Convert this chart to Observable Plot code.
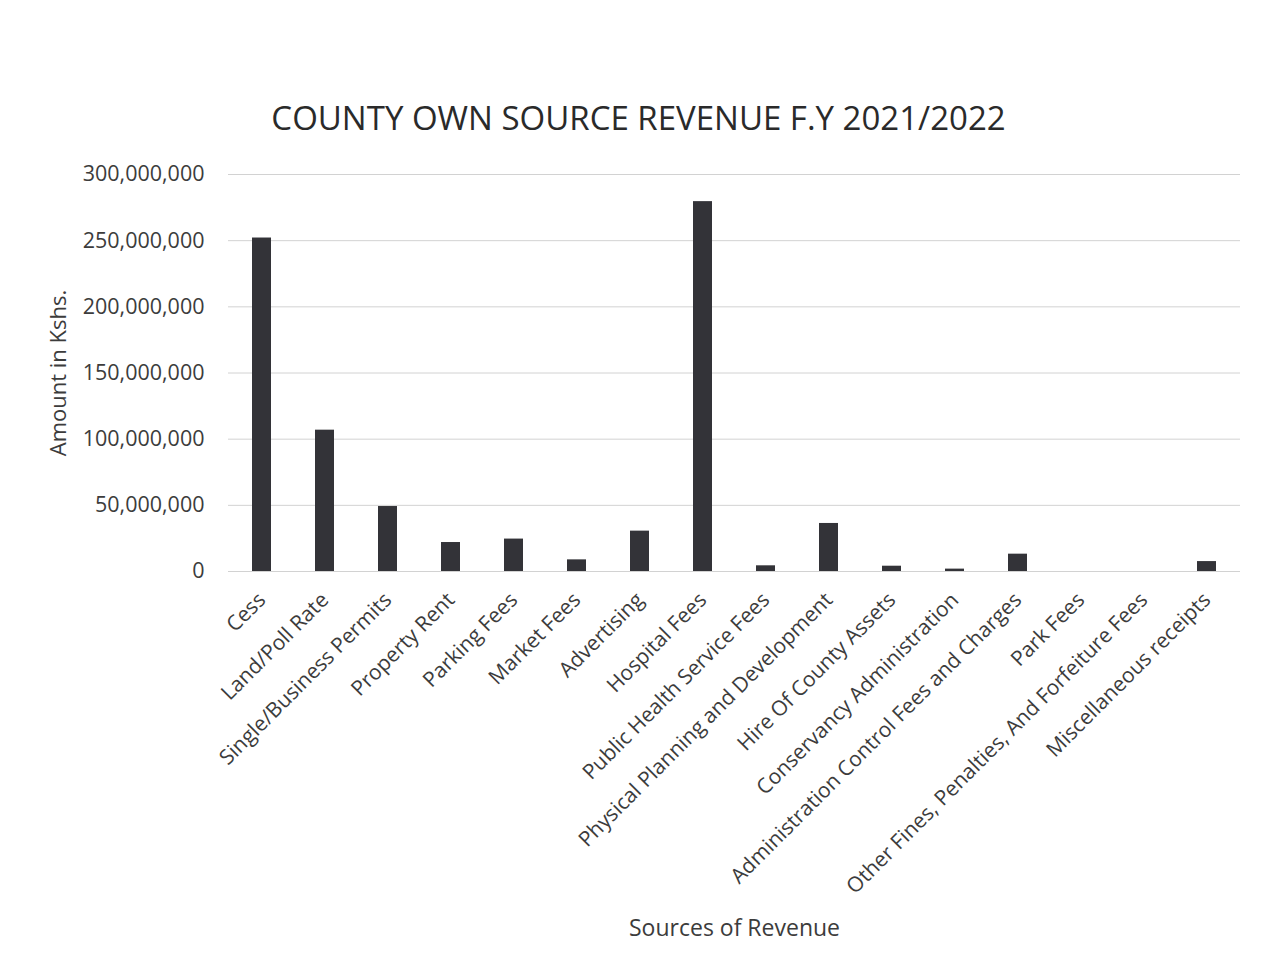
<!DOCTYPE html>
<html>
<head>
<meta charset="utf-8">
<script src="https://cdn.jsdelivr.net/npm/d3@7"></script>
<script src="https://cdn.jsdelivr.net/npm/@observablehq/plot@0.6"></script>
<style>
  html, body { margin: 0; padding: 0; background: #fff; }
  #chart svg { display: block; }
</style>
</head>
<body>
<div id="chart"></div>
<script>
const categories = [
  "Cess",
  "Land/Poll Rate",
  "Single/Business Permits",
  "Property Rent",
  "Parking Fees",
  "Market Fees",
  "Advertising",
  "Hospital Fees",
  "Public Health Service Fees",
  "Physical Planning and Development",
  "Hire Of County Assets",
  "Conservancy Administration",
  "Administration Control Fees and Charges",
  "Park Fees",
  "Other Fines, Penalties, And Forfeiture Fees",
  "Miscellaneous receipts"
];
const amounts = [
  252000000, 106800000, 49100000, 21900000, 24500000, 8800000, 30500000, 279500000,
  4300000, 36300000, 4000000, 1800000, 13100000, 0, 0, 7500000
];
const yTicks = [0, 50000000, 100000000, 150000000, 200000000, 250000000, 300000000];
const titleText = "COUNTY OWN SOURCE REVENUE F.Y 2021/2022";
const yLabel = "Amount in Kshs.";
const xLabel = "Sources of Revenue";

const data = categories.map((c, i) => ({category: c, amount: amounts[i]}));
const FONT = "'Open Sans', Lato, sans-serif";
const TEXT = "#3c3c3c";

const chart = Plot.plot({
  width: 1261,
  height: 974,
  marginLeft: 228,
  marginRight: 21,
  marginTop: 174,
  marginBottom: 403,
  style: {fontFamily: FONT, background: "#fff", color: TEXT},
  x: {domain: categories, paddingInner: 0.7, paddingOuter: 0.35, axis: null},
  y: {domain: [0, 300000000], axis: null},
  marks: [
    Plot.gridY(yTicks, {stroke: "#d2d2d2", strokeOpacity: 1, strokeWidth: 1}),
    Plot.barY(data, {x: "category", y: "amount", fill: "#333338"}),
    Plot.axisY({
      ticks: yTicks, tickSize: 0, tickPadding: 24,
      tickFormat: d3.format(","), fontSize: 21.5, fill: TEXT, label: null
    }),
    Plot.axisX({
      tickSize: 0, tickPadding: 25, tickRotate: -45,
      fontSize: 21, fill: TEXT, label: null
    }),
    Plot.text([titleText], {frameAnchor: "top-left", dx: 410, dy: -55, textAnchor: "middle", lineAnchor: "middle", fontSize: 33, fill: "#2a2a2a"}),
    Plot.text([yLabel], {frameAnchor: "left", dx: -170, rotate: -90, textAnchor: "middle", lineAnchor: "middle", fontSize: 22, fill: TEXT}),
    Plot.text([xLabel], {frameAnchor: "bottom", dy: 357, textAnchor: "middle", lineAnchor: "middle", fontSize: 23, fill: TEXT})
  ]
});
document.getElementById("chart").appendChild(chart);
</script>
</body>
</html>
